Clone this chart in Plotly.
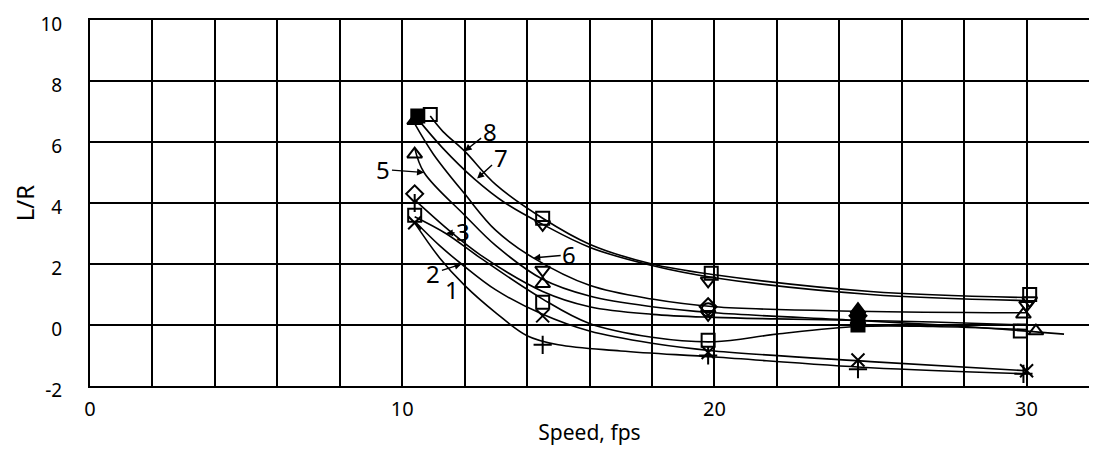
import plotly.graph_objects as go

# ---- axis ticks ----
x_ticks = [0, 10, 20, 30]
y_ticks = [-2, 0, 2, 4, 6, 8, 10]

# ---- faired curves ----
c1_x = [10.4, 11.2, 12.0, 13.0, 14.0, 15.0, 17.0, 20.0, 25.0, 30.0]
c1_y = [3.35, 2.2, 1.3, 0.4, -0.35, -0.65, -0.85, -1.05, -1.4, -1.6]
c2_x = [10.4, 11.2, 11.9, 13.0, 14.5, 16.0, 18.0, 20.0, 25.0, 30.0]
c2_y = [3.4, 2.6, 2.0, 1.15, 0.35, -0.2, -0.6, -0.85, -1.2, -1.5]
c3_x = [10.4, 11.4, 12.5, 14.5, 16.0, 18.0, 20.0, 22.0, 24.6, 27.0, 30.0]
c3_y = [3.55, 3.0, 2.2, 0.85, 0.05, -0.4, -0.55, -0.3, -0.05, -0.05, -0.15]
c4_x = [10.4, 11.5, 12.5, 14.5, 16.0, 18.0, 20.0, 22.0, 24.6, 27.0, 30.0]
c4_y = [4.1, 3.1, 2.3, 1.1, 0.6, 0.35, 0.25, 0.2, 0.15, 0.1, 0.0]
c5_x = [10.4, 10.7, 12.0, 13.0, 14.5, 16.0, 18.0, 20.0, 24.6, 28.0, 31.2]
c5_y = [5.8, 5.0, 3.6, 2.6, 1.5, 0.95, 0.6, 0.4, 0.15, -0.05, -0.3]
c6_x = [10.4, 11.0, 12.0, 13.0, 14.2, 16.0, 18.0, 20.0, 24.6, 30.0]
c6_y = [6.6, 5.6, 4.3, 3.1, 2.2, 1.3, 0.85, 0.6, 0.45, 0.4]
c7_x = [10.5, 11.3, 12.3, 13.3, 14.5, 16.0, 18.0, 20.0, 25.0, 30.0]
c7_y = [6.75, 5.8, 4.8, 4.0, 3.3, 2.55, 1.95, 1.55, 1.0, 0.8]
c8_x = [10.9, 11.3, 12.0, 13.0, 14.5, 16.0, 18.0, 20.0, 25.0, 30.0]
c8_y = [6.85, 6.35, 5.7, 4.6, 3.5, 2.65, 2.0, 1.65, 1.1, 0.9]

curves_x = [c1_x, c2_x, c3_x, c4_x, c5_x, c6_x, c7_x, c8_x]
curves_y = [c1_y, c2_y, c3_y, c4_y, c5_y, c6_y, c7_y, c8_y]

# ---- test points (markers) ----
p1_x = [10.4, 14.5, 19.8, 24.6, 29.9]
p1_y = [4.0, -0.65, -1.0, -1.45, -1.6]
p1_sym = ["cross-thin-open"] * 5
p2_x = [10.4, 14.5, 19.8, 24.6, 30.0]
p2_y = [3.35, 0.3, -0.9, -1.15, -1.5]
p2_sym = ["x-thin-open"] * 5
p3_x = [10.4, 14.5, 19.8, 24.6, 29.8]
p3_y = [3.6, 0.75, -0.5, 0.0, -0.2]
p3_sym = ["square-open", "square-open", "square-open", "square", "square-open"]
p4_x = [10.4, 19.8, 24.6, 29.9]
p4_y = [4.3, 0.6, 0.3, 0.35]
p4_sym = ["diamond-open", "diamond-open", "diamond", "triangle-up-open"]
p5_x = [10.4, 14.5, 19.8, 24.6, 30.3]
p5_y = [5.6, 1.35, 0.35, 0.15, -0.2]
p5_sym = ["triangle-up-open", "triangle-up-open", "triangle-down-open", "triangle-up", "triangle-up-open"]
p6_x = [10.4, 14.5, 19.8, 24.6, 30.0]
p6_y = [6.7, 1.8, 0.5, 0.5, 0.65]
p6_sym = ["triangle-up", "triangle-down-open", "circle-open", "triangle-up", "triangle-down-open"]
p7_x = [10.5, 14.5, 19.8, 30.1]
p7_y = [6.85, 3.3, 1.45, 0.8]
p7_sym = ["square", "triangle-down-open", "triangle-down-open", "triangle-down-open"]
p8_x = [10.9, 14.5, 19.9, 30.1]
p8_y = [6.9, 3.5, 1.7, 1.0]
p8_sym = ["square-open"] * 4

pts_x = [p1_x, p2_x, p3_x, p4_x, p5_x, p6_x, p7_x, p8_x]
pts_y = [p1_y, p2_y, p3_y, p4_y, p5_y, p6_y, p7_y, p8_y]
pts_sym = [p1_sym, p2_sym, p3_sym, p4_sym, p5_sym, p6_sym, p7_sym, p8_sym]

# ---- curve labels: (text, text pos, arrow tip) ----
lab_text = ["1", "2", "3", "5", "6", "7", "8"]
lab_x = [11.6, 11.0, 11.95, 9.4, 15.35, 13.15, 12.8]
lab_y = [1.15, 1.7, 3.05, 5.1, 2.3, 5.5, 6.35]
tip_x = [11.6, 11.9, 11.4, 10.7, 14.2, 12.4, 12.0]
tip_y = [1.15, 2.0, 3.0, 5.0, 2.2, 4.8, 5.7]
lab_arrow = [False, True, True, True, True, True, True]

fig = go.Figure()
for cx, cy in zip(curves_x, curves_y):
    fig.add_trace(go.Scatter(x=cx, y=cy, mode="lines",
                             line=dict(color="black", width=1.6, shape="spline", smoothing=1.0),
                             hoverinfo="skip", showlegend=False))
for px, py, ps in zip(pts_x, pts_y, pts_sym):
    fig.add_trace(go.Scatter(x=px, y=py, mode="markers",
                             marker=dict(symbol=ps, size=13, color="black",
                                         line=dict(color="black", width=2)),
                             showlegend=False))

for t, lx, ly, tx, ty, arr in zip(lab_text, lab_x, lab_y, tip_x, tip_y, lab_arrow):
    if arr:
        fig.add_annotation(x=tx, y=ty, ax=lx, ay=ly, axref="x", ayref="y",
                           xref="x", yref="y", text=t, showarrow=True,
                           arrowhead=2, arrowsize=1, arrowwidth=1.4, arrowcolor="black",
                           font=dict(family="Noto Sans", size=24, color="black"))
    else:
        fig.add_annotation(x=lx, y=ly, xref="x", yref="y", text=t, showarrow=False,
                           font=dict(family="Noto Sans", size=24, color="black"))

fig.update_layout(
    width=1097, height=454,
    margin=dict(l=82, r=16, t=12, b=76),
    paper_bgcolor="white", plot_bgcolor="white",
    font=dict(family="Noto Sans", size=20, color="black"),
    showlegend=False,
)
fig.update_xaxes(range=[0, 32], tickvals=x_ticks, ticktext=[str(v) for v in x_ticks],
                 showgrid=True, gridcolor="black", gridwidth=1.5,
                 minor=dict(dtick=2, showgrid=True, gridcolor="black", gridwidth=1.5),
                 showline=True, linecolor="black", linewidth=2, mirror=True,
                 zeroline=False, ticks="", ticklabelstandoff=4, automargin=False,
                 ticklabeloverflow="allow",
                 title=dict(text="Speed, fps", font=dict(size=21), standoff=4))
fig.update_yaxes(range=[-2, 10], tickvals=y_ticks, ticktext=[str(v) for v in y_ticks],
                 showgrid=True, gridcolor="black", gridwidth=1.5,
                 showline=True, linecolor="black", linewidth=2, mirror=True,
                 zeroline=False, ticks="", ticklabelstandoff=22, automargin=False,
                 ticklabeloverflow="allow", ticklabelshift=4, tickfont=dict(size=19),
                 title=dict(text="L/R", font=dict(size=24), standoff=2))

fig.write_html("out.html")
